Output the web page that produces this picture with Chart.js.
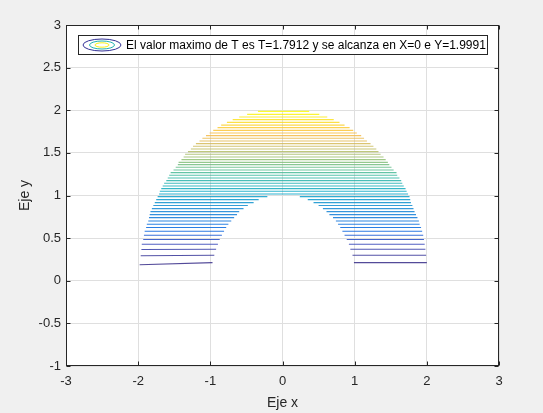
<!DOCTYPE html>
<html>
<head>
<meta charset="utf-8">
<script src="https://cdn.jsdelivr.net/npm/chart.js@4/dist/chart.umd.min.js"></script>
<style>
  html, body { margin: 0; padding: 0; background: #f0f0f0; }
  canvas { display: block; }
</style>
</head>
<body>
<canvas id="chart" width="543" height="413"></canvas>
<script>
// =========================
// DATA
// =========================

// contour lines, top (yellow) to bottom (dark blue)
const levelY = [
  1.987, 1.952, 1.920, 1.890, 1.858, 1.826, 1.796, 1.764, 1.733, 1.702,
  1.671, 1.639, 1.608, 1.577, 1.545, 1.515, 1.483, 1.451, 1.421, 1.389,
  1.362, 1.331, 1.299, 1.268, 1.237, 1.205, 1.175, 1.143, 1.111, 1.081,
  1.049, 1.018, 0.987, 0.952, 0.917, 0.882, 0.846, 0.811, 0.776, 0.741,
  0.701, 0.662, 0.624, 0.580, 0.533, 0.483, 0.428, 0.369, 0.299, 0.213
];

// the lowest line dips a little at its outer left end
const leftOuterY = [
  1.987, 1.952, 1.920, 1.890, 1.858, 1.826, 1.796, 1.764, 1.733, 1.702,
  1.671, 1.639, 1.608, 1.577, 1.545, 1.515, 1.483, 1.451, 1.421, 1.389,
  1.362, 1.331, 1.299, 1.268, 1.237, 1.205, 1.175, 1.143, 1.111, 1.081,
  1.049, 1.018, 0.987, 0.952, 0.917, 0.882, 0.846, 0.811, 0.776, 0.741,
  0.701, 0.662, 0.624, 0.580, 0.533, 0.483, 0.428, 0.366, 0.293, 0.188
];

const leftOuterX = [
  -0.34, -0.49, -0.60, -0.69, -0.77, -0.85, -0.90, -0.96, -1.01, -1.06,
  -1.11, -1.15, -1.20, -1.24, -1.27, -1.31, -1.35, -1.37, -1.40, -1.44,
  -1.45, -1.48, -1.51, -1.55, -1.57, -1.59, -1.61, -1.64, -1.66, -1.68,
  -1.70, -1.71, -1.73, -1.75, -1.77, -1.79, -1.81, -1.83, -1.84, -1.85,
  -1.86, -1.88, -1.89, -1.91, -1.92, -1.93, -1.95, -1.955, -1.965, -1.98
];

const rightOuterX = [
  0.37, 0.51, 0.62, 0.71, 0.79, 0.86, 0.93, 0.98, 1.03, 1.09,
  1.13, 1.17, 1.22, 1.26, 1.30, 1.33, 1.36, 1.40, 1.43, 1.46,
  1.48, 1.51, 1.54, 1.58, 1.59, 1.62, 1.645, 1.66, 1.68, 1.705,
  1.72, 1.74, 1.76, 1.77, 1.78, 1.80, 1.815, 1.83, 1.85, 1.87,
  1.89, 1.90, 1.92, 1.935, 1.95, 1.96, 1.97, 1.98, 1.99, 2.00
];

// inner ends where the hole cuts the line (null = line goes straight across)
const leftInnerX = [
  null, null, null, null, null, null, null, null, null, null,
  null, null, null, null, null, null, null, null, null, null,
  null, null, null, null, null, null, null, null, null, null,
  null, null, -0.21, -0.33, -0.40, -0.48, -0.54, -0.60, -0.63, -0.67,
  -0.71, -0.75, -0.78, -0.81, -0.84, -0.87, -0.895, -0.92, -0.945, -0.97
];

const rightInnerX = [
  null, null, null, null, null, null, null, null, null, null,
  null, null, null, null, null, null, null, null, null, null,
  null, null, null, null, null, null, null, null, null, null,
  null, null, 0.24, 0.35, 0.43, 0.50, 0.56, 0.61, 0.65, 0.70,
  0.74, 0.77, 0.80, 0.83, 0.86, 0.89, 0.92, 0.94, 0.97, 0.99
];

const xTicks = [-3, -2, -1, 0, 1, 2, 3];
const yTicks = [-1, -0.5, 0, 0.5, 1, 1.5, 2, 2.5, 3];
const xTickLabels = ["-3", "-2", "-1", "0", "1", "2", "3"];
const yTickLabels = ["-1", "-0.5", "0", "0.5", "1", "1.5", "2", "2.5", "3"];

const legendText = "El valor maximo de T es T=1.7912 y se alcanza en X=0 e Y=1.9991";

// =========================
// STYLE
// =========================

const FONT = "'Liberation Sans', Arial, Helvetica, sans-serif";
const INK = "#262626";

// parula key colours
const PARULA = [
  [0, [0.2081, 0.1663, 0.5292]],
  [4 / 63, [0.1959, 0.2645, 0.7279]],
  [8 / 63, [0.0117, 0.3875, 0.8820]],
  [16 / 63, [0.0793, 0.5200, 0.8312]],
  [24 / 63, [0.0228, 0.6535, 0.7768]],
  [32 / 63, [0.2178, 0.7250, 0.6193]],
  [40 / 63, [0.5709, 0.7485, 0.4494]],
  [48 / 63, [0.8507, 0.7299, 0.3360]],
  [52 / 63, [0.9739, 0.7314, 0.2666]],
  [56 / 63, [0.9880, 0.8066, 0.1794]],
  [1, [0.9763, 0.9831, 0.0538]],
];

function parula(t, alpha = 1) {
  for (let i = 1; i < PARULA.length; i++) {
    const [t1, c1] = PARULA[i];
    const [t0, c0] = PARULA[i - 1];
    if (t <= t1) {
      const f = (t - t0) / (t1 - t0);
      const c = c0.map((v, k) => Math.round((v + (c1[k] - v) * f) * 255));
      return `rgba(${c[0]},${c[1]},${c[2]},${alpha})`;
    }
  }
  return `rgba(249,251,14,${alpha})`;
}

// =========================
// DATASETS
// =========================

const datasets = [];
const n = levelY.length;

levelY.forEach((y, i) => {
  const color = parula((n - 1 - i) / (n - 1), 0.85);
  const base = {
    borderColor: color,
    backgroundColor: color,
    borderWidth: 1.1,
    pointRadius: 0,
    fill: false,
    tension: 0,
  };
  const start = { x: leftOuterX[i], y: leftOuterY[i] };
  if (leftInnerX[i] === null) {
    datasets.push({ ...base, data: [start, { x: rightOuterX[i], y }] });
  } else {
    datasets.push({ ...base, data: [start, { x: leftInnerX[i], y }] });
    datasets.push({ ...base, data: [{ x: rightInnerX[i], y }, { x: rightOuterX[i], y }] });
  }
});

// =========================
// PLUGINS
// =========================

const backgroundPlugin = {
  id: "matlabBackground",
  beforeDraw(chart) {
    const { ctx, chartArea: a } = chart;
    ctx.save();
    ctx.fillStyle = "#f0f0f0";
    ctx.fillRect(0, 0, chart.width, chart.height);
    ctx.fillStyle = "#ffffff";
    ctx.fillRect(a.left, a.top, a.right - a.left, a.bottom - a.top);
    ctx.restore();
  },
};

const framePlugin = {
  id: "matlabFrame",
  afterDatasetsDraw(chart) {
    const { ctx, chartArea: a, scales } = chart;
    const L = Math.round(a.left) + 0.5;
    const R = Math.round(a.right) - 0.5;
    const T = Math.round(a.top) + 0.5;
    const B = Math.round(a.bottom) - 0.5;
    const tick = 4;
    ctx.save();
    ctx.strokeStyle = INK;
    ctx.lineWidth = 1;
    ctx.strokeRect(L, T, R - L, B - T);
    ctx.beginPath();
    xTicks.forEach((v) => {
      const px = Math.round(scales.x.getPixelForValue(v)) + 0.5;
      ctx.moveTo(px, B); ctx.lineTo(px, B - tick);
      ctx.moveTo(px, T); ctx.lineTo(px, T + tick);
    });
    yTicks.forEach((v) => {
      const py = Math.round(scales.y.getPixelForValue(v)) + 0.5;
      ctx.moveTo(L, py); ctx.lineTo(L + tick, py);
      ctx.moveTo(R, py); ctx.lineTo(R - tick, py);
    });
    ctx.stroke();
    ctx.restore();
  },
};

const legendPlugin = {
  id: "contourLegend",
  afterDraw(chart) {
    const { ctx } = chart;
    const box = { x: 78.5, y: 35.5, w: 409, h: 19 };
    ctx.save();
    ctx.fillStyle = "#ffffff";
    ctx.fillRect(box.x, box.y, box.w, box.h);
    ctx.strokeStyle = INK;
    ctx.lineWidth = 1;
    ctx.strokeRect(box.x, box.y, box.w, box.h);

    // contour icon: three nested ellipses
    const cx = 102, cy = 45;
    [[19, 6, parula(0.02)], [12.5, 4, parula(0.45)], [7, 2.2, parula(0.98)]].forEach(([rx, ry, c]) => {
      ctx.beginPath();
      ctx.ellipse(cx, cy, rx, ry, 0, 0, Math.PI * 2);
      ctx.strokeStyle = c;
      ctx.stroke();
    });

    ctx.fillStyle = "#000000";
    ctx.font = `12px ${FONT}`;
    ctx.textBaseline = "middle";
    ctx.textAlign = "left";
    ctx.fillText(legendText, 126, 45.5);
    ctx.restore();
  },
};

// =========================
// CHART
// =========================

const ctx = document.getElementById("chart").getContext("2d");

new Chart(ctx, {
  type: "line",
  data: { datasets },
  options: {
    responsive: false,
    animation: false,
    devicePixelRatio: 1,
    layout: { padding: { top: 25, right: 44, left: 0, bottom: 0 } },
    plugins: {
      legend: { display: false },
      tooltip: { enabled: false },
    },
    scales: {
      x: {
        type: "linear",
        min: -3,
        max: 3,
        afterBuildTicks: (s) => { s.ticks = xTicks.map((v) => ({ value: v })); },
        afterFit: (s) => { s.height = 47; },
        ticks: {
          callback: (v) => xTickLabels[xTicks.indexOf(v)],
          color: INK,
          font: { family: FONT, size: 13 },
          padding: 8,
          maxRotation: 0,
        },
        grid: { color: "#dfdfdf", drawTicks: false },
        border: { display: false },
        title: {
          display: true,
          text: "Eje x",
          color: INK,
          font: { family: FONT, size: 14 },
          padding: { top: 0, bottom: 1 },
        },
      },
      y: {
        type: "linear",
        min: -1,
        max: 3,
        afterBuildTicks: (s) => { s.ticks = yTicks.map((v) => ({ value: v })); },
        afterFit: (s) => { s.width = 66; },
        ticks: {
          callback: (v) => yTickLabels[yTicks.indexOf(v)],
          color: INK,
          font: { family: FONT, size: 13 },
          padding: 5,
        },
        grid: { color: "#dfdfdf", drawTicks: false },
        border: { display: false },
        title: {
          display: true,
          text: "Eje y",
          color: INK,
          font: { family: FONT, size: 14 },
          padding: { top: 17, bottom: 0 },
        },
      },
    },
  },
  plugins: [backgroundPlugin, framePlugin, legendPlugin],
});
</script>
</body>
</html>
